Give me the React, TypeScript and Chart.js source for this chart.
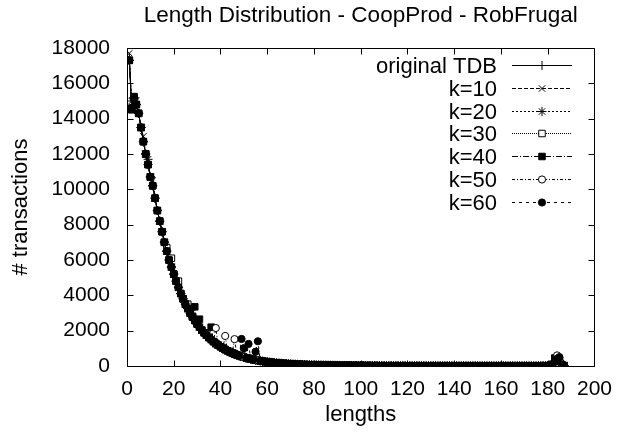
import { useEffect, useRef } from 'react';
import { Chart, registerables } from 'chart.js';
import { drawPoint } from 'chart.js/helpers';

Chart.register(...registerables);

// ---- data ----
const titleText = 'Length Distribution - CoopProd - RobFrugal';
const xTitle = 'lengths';
const yTitle = '# transactions';

// transaction lengths 1..187
const lengths: number[] = Array.from({ length: 187 }, (_, i) => i + 1);

// number of transactions per length, original TDB
const originalTDB: number[] = [
  17300, 14600, 15200, 14800, 14300, 13500, 12700, 12000, 11400, 10700,
  10200, 9500, 8800, 8200, 7600, 7000, 6500, 6000, 5600, 5200,
  4800, 4450, 4100, 3800, 3500, 3250, 3000, 2780, 2570, 2380,
  2200, 2030, 1880, 1740, 1610, 1490, 1380, 1270, 1180, 1090,
  1010, 930, 860, 800, 740, 680, 630, 580, 540, 500,
  460, 425, 395, 365, 340, 315, 290, 270, 250, 230,
  215, 200, 185, 172, 160, 150, 140, 130, 121, 113,
  105, 98, 92, 86, 80, 75, 70, 66, 62, 58,
  55, 52, 49, 46, 44, 41, 39, 37, 35, 33,
  31, 30, 28, 27, 26, 24, 23, 22, 21, 20,
  19, 18, 18, 17, 16, 16, 15, 14, 14, 13,
  13, 12, 12, 11, 11, 11, 10, 10, 9, 9,
  9, 8, 8, 8, 8, 7, 7, 7, 7, 6,
  6, 6, 6, 6, 5, 5, 5, 5, 5, 5,
  5, 4, 4, 4, 4, 4, 4, 4, 4, 3,
  3, 3, 3, 3, 3, 3, 3, 3, 3, 3,
  3, 3, 3, 3, 3, 3, 3, 3, 3, 3,
  3, 3, 3, 3, 4, 5, 6, 8, 10, 14,
  30, 90, 250, 420, 300, 80, 20,
];

// anonymised versions: where they visibly differ from the original, [length, value]
const k10Diff: [number, number][] = [[1, 17700], [4, 15000], [7, 13000], [11, 10500]];
const k20Diff: [number, number][] = [[2, 15000], [9, 11700]];
const k30Diff: [number, number][] = [[17, 6700], [19, 6100], [22, 4800], [26, 3500], [184, 450]];
const k40Diff: [number, number][] = [[2, 14500], [3, 15250], [29, 3350], [31, 2650], [36, 2200], [183, 450]];
const k50Diff: [number, number][] = [[38, 2150], [42, 1700], [46, 1520], [184, 600]];
const k60Diff: [number, number][] = [[49, 1530], [50, 1000], [52, 1250], [55, 810], [56, 1400], [185, 500]];

const seriesLabels = ['original TDB', 'k=10', 'k=20', 'k=30', 'k=40', 'k=50', 'k=60'];

const xTicks = { min: 0, max: 200, step: 20 };
const yTicks = { min: 0, max: 18000, step: 2000 };

// ---- styling ----
const FONT = '"Liberation Sans", Arial, Helvetica, sans-serif';
const styles = [
  { dash: [] as number[], point: 'cross', fill: '#000', r: 4.5 },
  { dash: [4, 2], point: 'crossRot', fill: '#000', r: 4.5 },
  { dash: [2, 2], point: 'star', fill: '#000', r: 4.5 },
  { dash: [1, 1], point: 'rect', fill: '#fff', r: 4.6 },
  { dash: [6, 2, 1, 2], point: 'rect', fill: '#000', r: 4.6 },
  { dash: [3, 2, 1, 2], point: 'circle', fill: '#fff', r: 3.6 },
  { dash: [3, 4], point: 'circle', fill: '#000', r: 3.6 },
];

function withDiff(base: number[], diff: [number, number][]): number[] {
  const out = base.slice();
  diff.forEach(([len, v]) => {
    out[lengths.indexOf(len)] = v;
  });
  return out;
}

const seriesValues = [
  originalTDB,
  withDiff(originalTDB, k10Diff),
  withDiff(originalTDB, k20Diff),
  withDiff(originalTDB, k30Diff),
  withDiff(originalTDB, k40Diff),
  withDiff(originalTDB, k50Diff),
  withDiff(originalTDB, k60Diff),
];

const framePlugin = {
  id: 'gnuplotFrame',
  afterDatasetsDraw(chart: any) {
    const { ctx, chartArea: a, scales } = chart;
    const L = Math.round(a.left) + 0.5;
    const R = Math.round(a.right) + 0.5;
    const T = Math.round(a.top) + 0.5;
    const B = Math.round(a.bottom) + 0.5;
    ctx.save();
    ctx.setLineDash([]);
    ctx.strokeStyle = '#000';
    ctx.lineWidth = 1;
    ctx.beginPath();
    ctx.rect(L, T, R - L, B - T);
    const tl = 6;
    scales.x.ticks.forEach((t: any) => {
      const px = Math.round(scales.x.getPixelForValue(t.value)) + 0.5;
      ctx.moveTo(px, B);
      ctx.lineTo(px, B - tl);
      ctx.moveTo(px, T);
      ctx.lineTo(px, T + tl);
    });
    scales.y.ticks.forEach((t: any) => {
      const py = Math.round(scales.y.getPixelForValue(t.value)) + 0.5;
      ctx.moveTo(L, py);
      ctx.lineTo(L + tl, py);
      ctx.moveTo(R, py);
      ctx.lineTo(R - tl, py);
    });
    ctx.stroke();

    // gnuplot-style key, top right
    ctx.font = `22px ${FONT}`;
    ctx.textAlign = 'right';
    ctx.textBaseline = 'middle';
    chart.data.datasets.forEach((ds: any, i: number) => {
      const y = Math.round(65 + i * 22.8) + 0.5;
      ctx.fillStyle = '#000';
      ctx.fillText(ds.label, 497, y + 1);
      ctx.beginPath();
      ctx.strokeStyle = '#000';
      ctx.lineWidth = 1;
      ctx.setLineDash(ds.borderDash || []);
      ctx.moveTo(512, y);
      ctx.lineTo(572, y);
      ctx.stroke();
      ctx.setLineDash([]);
      ctx.fillStyle = ds.pointBackgroundColor;
      drawPoint(ctx, { pointStyle: ds.pointStyle, radius: ds.pointRadius, borderWidth: 1, rotation: 0 } as any, 542, y);
    });
    ctx.restore();
  },
};

export default function App() {
  const ref = useRef<HTMLCanvasElement | null>(null);
  useEffect(() => {
    if (!ref.current) return;
    const datasets = seriesLabels.map((label, i) => ({
      label,
      data: lengths.map((x, j) => ({ x, y: seriesValues[i][j] })),
      showLine: true,
      borderColor: '#000',
      backgroundColor: styles[i].fill,
      borderWidth: 1,
      borderDash: styles[i].dash,
      pointStyle: styles[i].point as any,
      pointRadius: styles[i].r,
      pointBorderWidth: 1,
      pointBorderColor: '#000',
      pointBackgroundColor: styles[i].fill,
      tension: 0,
      order: seriesLabels.length - i,
    }));
    const tickFont = { family: FONT, size: 21, weight: 'normal' as const };
    const textFont = { family: FONT, size: 22, weight: 'normal' as const };
    const chart = new Chart(ref.current, {
      type: 'scatter',
      data: { datasets },
      plugins: [framePlugin],
      options: {
        animation: false,
        responsive: false,
        maintainAspectRatio: false,
        layout: { padding: { left: 0, right: 22, top: 0, bottom: 0 } },
        plugins: {
          legend: { display: false },
          tooltip: { enabled: false },
          title: {
            display: true,
            text: titleText,
            color: '#000',
            font: { family: FONT, size: 22.5, weight: 'normal' as const, lineHeight: 1.2 },
            fullSize: false,
            padding: { top: 2, bottom: 19 },
          },
        },
        scales: {
          x: {
            type: 'linear',
            min: xTicks.min,
            max: xTicks.max,
            ticks: { stepSize: xTicks.step, color: '#000', font: tickFont, padding: 11, callback: (v: any) => String(v) },
            grid: { display: false, drawTicks: false },
            border: { display: false },
            title: { display: true, text: xTitle, color: '#000', font: textFont, padding: { top: 0, bottom: 9 } },
            afterFit: (s: any) => { s.height = 71; },
          },
          y: {
            type: 'linear',
            min: yTicks.min,
            max: yTicks.max,
            ticks: { stepSize: yTicks.step, color: '#000', font: tickFont, padding: 17, callback: (v: any) => String(v) },
            grid: { display: false, drawTicks: false },
            border: { display: false },
            title: { display: true, text: yTitle, color: '#000', font: textFont, padding: { top: 8, bottom: 0 } },
            afterFit: (s: any) => { s.width = 127; },
          },
        },
      },
    });
    return () => chart.destroy();
  }, []);
  return (
    <div style={{ position: 'absolute', left: 0, top: 0, width: 623, height: 437, background: '#fff' }}>
      <canvas ref={ref} width={623} height={437} />
    </div>
  );
}
